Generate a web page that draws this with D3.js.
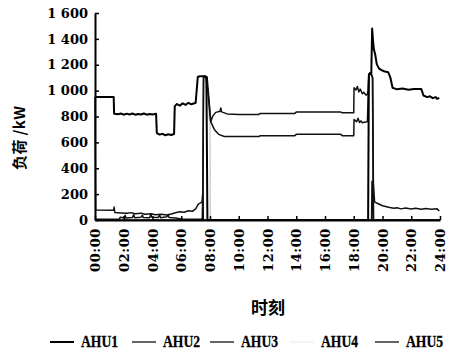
<!DOCTYPE html>
<meta charset="utf-8">
<script src="https://d3js.org/d3.v7.min.js"></script>
<style>
  body { margin: 0; background: #fff; }
</style>
<body>
  <div id="container"></div>
</body>
<script>
    // hours / kW
    var seriesNames = ["AHU1", "AHU2", "AHU3", "AHU4", "AHU5"];
    var hourTicks = [0, 2, 4, 6, 8, 10, 12, 14, 16, 18, 20, 22, 24];
    var loadTicks = [0, 200, 400, 600, 800, 1000, 1200, 1400, 1600];

    // AHU1: night unit (off during the day)
    var ahu1 = [[0,950],[1.3,950],[1.33,822],[1.6,818],[1.8,823],[2.0,814],[2.2,822],[2.4,816],[2.6,823],
      [2.8,814],[3.0,820],[3.2,815],[3.4,823],[3.6,814],[3.8,820],[4.0,815],[4.25,822],[4.3,672],[4.5,660],
      [4.7,666],[4.9,655],[5.1,663],[5.3,657],[5.5,665],[5.55,880],[5.7,896],[5.9,884],[6.1,902],[6.3,890],
      [6.5,906],[6.7,894],[6.9,902],[7.0,905],[7.15,1105],[7.3,1112],[7.65,1112],[7.75,1098],[7.82,0],
      [19.0,0],[19.05,1120],[19.12,1135],[19.22,1130],[19.28,1480],[19.33,1400],[19.4,1320],[19.5,1275],
      [19.6,1205],[19.75,1172],[19.9,1160],[20.1,1150],[20.4,1142],[20.55,1100],[20.7,1022],[21.0,1010],
      [21.4,1016],[21.8,1007],[22.2,1013],[22.7,1012],[22.85,962],[23.1,950],[23.3,956],[23.5,942],
      [23.7,950],[23.8,936],[23.95,944]];

    // AHU2: low at night, upper curve during the day
    var ahu2 = [[0,950],[0.04,78],[1.3,76],[1.33,100],[1.38,58],[1.8,55],[2.2,52],[2.5,57],[2.8,48],
      [3.2,53],[3.5,45],[3.9,49],[4.2,40],[4.6,45],[5.0,38],[5.3,46],[5.6,56],[5.9,63],[6.2,60],[6.5,71],
      [6.8,68],[7.0,86],[7.2,125],[7.35,132],[7.45,140],[7.5,215],[7.55,1100],[7.65,1112],[7.8,1105],
      [7.95,900],[8.05,760],[8.2,805],[8.4,832],[8.7,840],[8.75,866],[8.8,836],[9.2,820],[10,816],
      [11.4,816],[11.5,824],[13.9,824],[14.0,834],[17.1,834],[17.2,829],[18.0,829],[18.02,1022],
      [18.15,1005],[18.25,1032],[18.35,990],[18.45,1012],[18.6,976],[18.7,988],[18.85,965],[18.95,972],
      [19.0,1000],[19.05,1130],[19.2,1135],[19.3,1100],[19.35,300],[19.45,140],[19.6,131],[20.0,110],
      [20.5,96],[20.8,90],[21.0,95],[21.3,86],[21.6,92],[22.0,85],[22.3,90],[22.7,84],[23.0,88],
      [23.4,84],[23.8,86],[23.95,70]];

    // AHU3: near zero at night, lower curve during the day
    var ahu3 = [[0,5],[1.7,8],[1.75,22],[2.0,18],[2.1,36],[2.15,15],[2.6,20],[2.7,42],[2.75,18],[3.2,22],
      [3.3,38],[3.35,20],[3.8,18],[3.9,46],[3.95,22],[4.4,20],[4.5,40],[4.55,18],[5.0,25],[5.1,42],
      [5.15,20],[5.6,15],[6.0,8],[7.4,5],[7.5,10],[7.55,1100],[7.7,1110],[7.85,1000],[8.05,760],
      [8.3,700],[8.6,662],[9.0,645],[11.4,645],[11.5,652],[13.9,652],[14.0,662],[17.1,662],[17.2,652],
      [18.0,652],[18.02,776],[18.2,760],[18.3,786],[18.4,754],[18.5,766],[18.6,752],[18.8,758],
      [18.95,760],[19.05,1120],[19.2,1130],[19.32,1100],[19.38,0],[24,0]];

    // AHU4: faint trace
    var ahu4 = [[0,0],[7.5,0],[7.55,1100],[7.75,1110],[7.95,780],[8.0,760],[8.02,0],[19.0,0],
      [19.05,1120],[19.3,1120],[19.35,0],[24,0]];

    // AHU5: mostly idle
    var ahu5 = [[0,0],[7.46,0],[7.5,220],[7.54,0],[19.24,0],[19.27,300],[19.33,290],[19.36,0],[24,0]];

    var allSeries = [ahu1, ahu2, ahu3, ahu4, ahu5];
    var strokes = ["#000", "#111", "#111", "#c4c4c4", "#111"];
    var widths = [2, 1.5, 1.5, 1.2, 1.5];

    var margin = {top: 13, right: 12, bottom: 132, left: 95},
    width = 452 - margin.left - margin.right,
    height = 352 - margin.top - margin.bottom;

    var svg = d3.select("#container")
      .append("svg")
      .attr("width", 452)
      .attr("height", 352)
      .append("g")
      .attr("transform", "translate(" + margin.left + "," + margin.top + ")");

    var x = d3.scaleLinear().domain([0, 24]).range([0, width]);
    var y = d3.scaleLinear().domain([0, 1600]).range([height, 0]);

    var fmt = d3.formatLocale({decimal: ".", thousands: " ", grouping: [3], currency: ["", ""]}).format(",");
    var tickFont = "DejaVu Serif";

    // lines
    var line = d3.line()
      .x(function (d) { return x(d[0]); })
      .y(function (d) { return y(d[1]); });

    // draw faint one first so black traces sit on top
    [3, 4, 2, 1, 0].forEach(function (i) {
      svg.append("path")
        .datum(allSeries[i])
        .attr("d", line)
        .attr("fill", "none")
        .attr("stroke", strokes[i])
        .attr("stroke-width", widths[i])
        .attr("stroke-linejoin", "round");
    });

    // Y axis
    var yAxis = svg.append("g")
      .call(d3.axisLeft(y).tickValues(loadTicks).tickFormat(fmt)
        .tickSizeInner(-4).tickSizeOuter(0).tickPadding(7));
    yAxis.select(".domain").attr("stroke-width", 2);
    yAxis.selectAll("line").attr("stroke-width", 1.5);
    yAxis.selectAll("text")
      .attr("font-family", tickFont)
      .attr("font-weight", "bold")
      .attr("font-size", 13)
      .attr("fill", "#000");

    // X axis
    var xAxis = svg.append("g")
      .attr("transform", "translate(0," + height + ")")
      .call(d3.axisBottom(x).tickValues(hourTicks)
        .tickFormat(function (d) { return (d < 10 ? "0" : "") + d + ":00"; })
        .tickSizeInner(-4).tickSizeOuter(0));
    xAxis.select(".domain").attr("stroke-width", 2);
    xAxis.selectAll("line").attr("stroke-width", 1.5);
    xAxis.selectAll("text")
      .attr("transform", "rotate(-90)")
      .attr("text-anchor", "end")
      .attr("x", -8)
      .attr("y", 0)
      .attr("dy", "0.36em")
      .attr("font-family", tickFont)
      .attr("font-weight", "bold")
      .attr("font-size", 13)
      .attr("letter-spacing", 0.6)
      .attr("fill", "#000");

    // Y axis label
    svg.append("text")
      .attr("transform", "translate(" + (25 - margin.left) + "," + 125 + ") rotate(-90)")
      .attr("text-anchor", "middle")
      .attr("font-family", "Noto Sans CJK SC")
      .attr("font-weight", "bold")
      .attr("font-size", 15)
      .attr("textLength", 64)
      .attr("lengthAdjust", "spacing")
      .text("负荷 /kW");

    // X axis label
    svg.append("text")
      .attr("x", 268 - margin.left)
      .attr("y", 314 - margin.top)
      .attr("text-anchor", "middle")
      .attr("font-family", "Noto Sans CJK SC")
      .attr("font-weight", "bold")
      .attr("font-size", 17)
      .text("时刻");

    // legend
    var legendX = [50, 132, 210, 290, 375];
    var legend = svg.append("g").attr("transform", "translate(" + (-margin.left) + "," + (-margin.top) + ")");
    seriesNames.forEach(function (name, i) {
      legend.append("line")
        .attr("x1", legendX[i]).attr("x2", legendX[i] + 24)
        .attr("y1", 342).attr("y2", 342)
        .attr("stroke", i == 3 ? "#eee" : strokes[i])
        .attr("stroke-width", i == 0 ? 2 : 1.3);
      legend.append("text")
        .attr("x", legendX[i] + 31)
        .attr("y", 347)
        .attr("font-family", "Liberation Serif")
        .attr("font-weight", "bold")
        .attr("font-size", 16)
        .attr("stroke", "#000")
        .attr("stroke-width", 0.3)
        .attr("textLength", 37)
        .attr("lengthAdjust", "spacingAndGlyphs")
        .text(name);
    });
</script>
